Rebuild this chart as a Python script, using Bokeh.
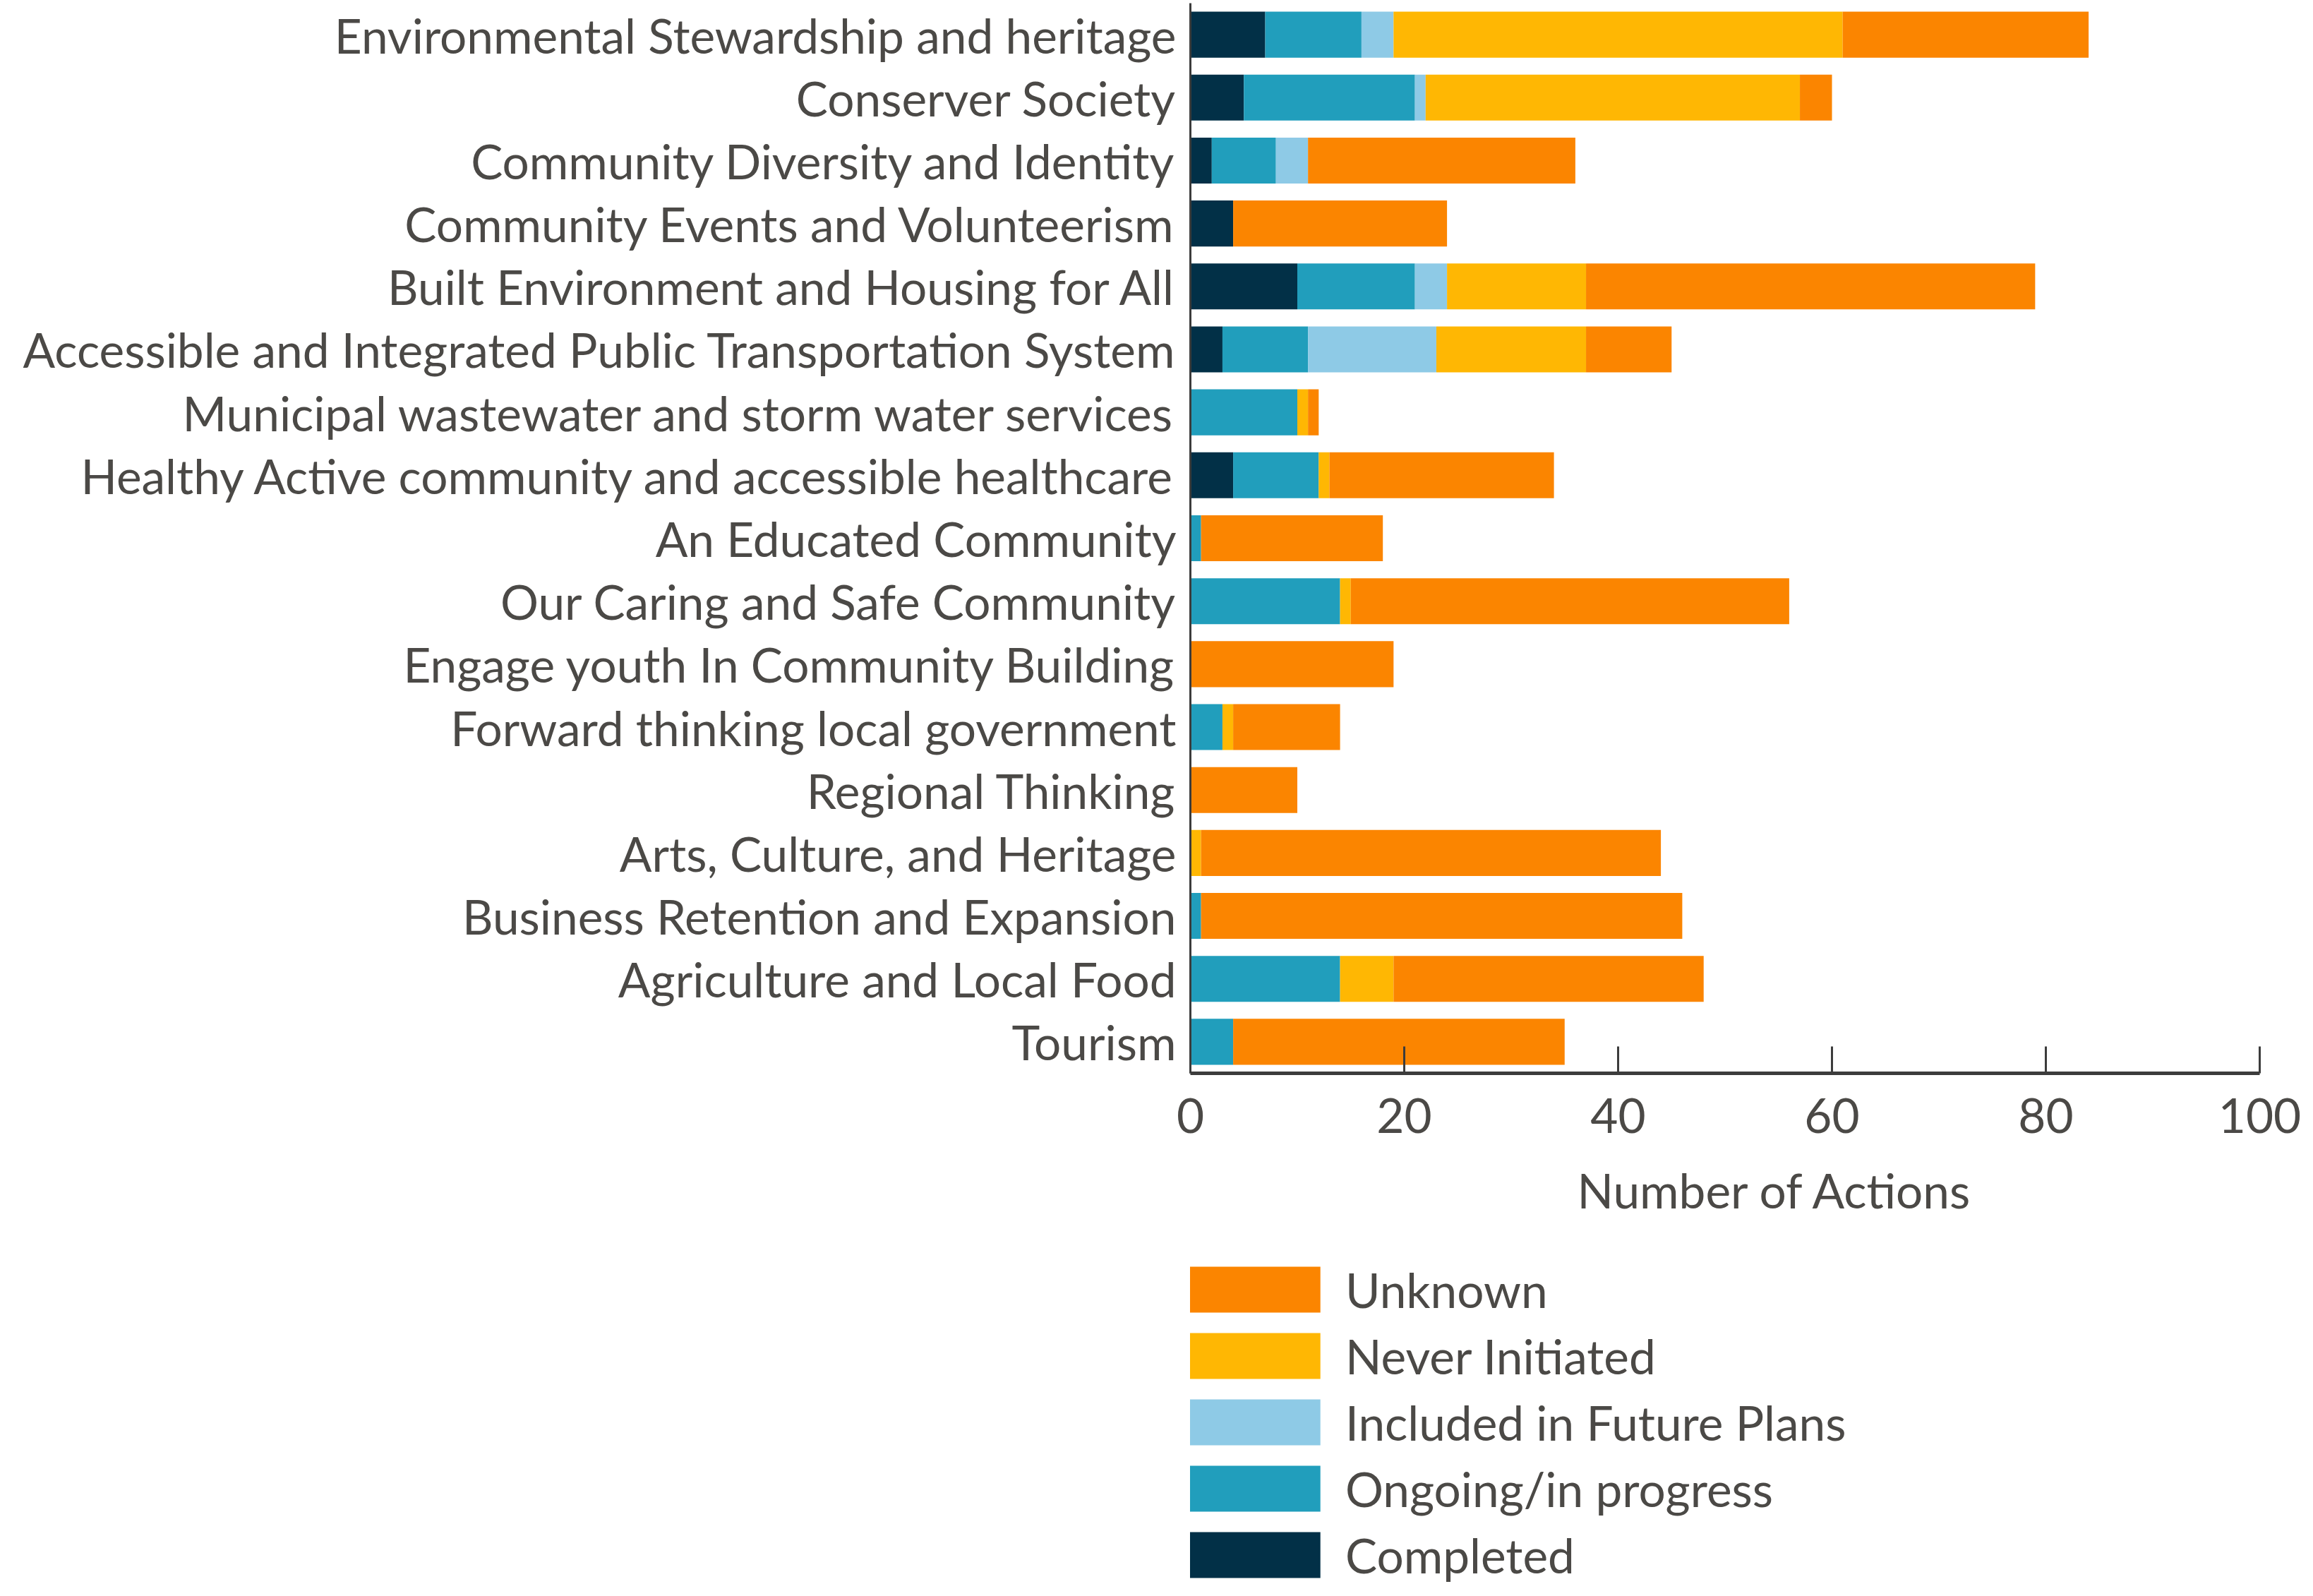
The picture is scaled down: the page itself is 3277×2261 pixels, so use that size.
from bokeh.plotting import figure
from bokeh.layouts import column
from bokeh.models import (ColumnDataSource, FactorRange, Range1d, FixedTicker, Legend,
                          LegendItem, Title)
from bokeh.embed import file_html
from bokeh.resources import INLINE

categories = [
    "Environmental Stewardship and heritage",
    "Conserver Society",
    "Community Diversity and Identity",
    "Community Events and Volunteerism",
    "Built Environment and Housing for All",
    "Accessible and Integrated Public Transportation System",
    "Municipal wastewater and storm water services",
    "Healthy Active community and accessible healthcare",
    "An Educated Community",
    "Our Caring and Safe Community",
    "Engage youth In Community Building",
    "Forward thinking local government",
    "Regional Thinking",
    "Arts, Culture, and Heritage",
    "Business Retention and Expansion",
    "Agriculture and Local Food",
    "Tourism",
]
completed = [7, 5, 2, 4, 10, 3, 0, 4, 0, 0, 0, 0, 0, 0, 0, 0, 0]
ongoing = [9, 16, 6, 0, 11, 8, 10, 8, 1, 14, 0, 3, 0, 0, 1, 14, 4]
future_plans = [3, 1, 3, 0, 3, 12, 0, 0, 0, 0, 0, 0, 0, 0, 0, 0, 0]
never_initiated = [42, 35, 0, 0, 13, 14, 1, 1, 0, 1, 0, 1, 0, 1, 0, 5, 0]
unknown = [23, 3, 25, 20, 42, 8, 1, 21, 17, 41, 19, 10, 10, 43, 45, 29, 31]

series_keys = ["completed", "ongoing", "future", "never", "unknown"]
series_labels = ["Completed", "Ongoing/in progress", "Included in Future Plans",
                 "Never Initiated", "Unknown"]
colors = ["#023047", "#219ebc", "#8ecae6", "#ffb703", "#fb8500"]
x_ticks = [0, 20, 40, 60, 80, 100]
x_title = "Number of Actions"

source = ColumnDataSource(dict(
    cat=categories, completed=completed, ongoing=ongoing, future=future_plans,
    never=never_initiated, unknown=unknown))

FONT = "Lato"
FS = "67.5px"
TEXT = "#4b4946"
AXIS = "#3c3c3c"
W = 3261
H1 = 1780
H2 = 465

p = figure(width=W, height=H1, output_backend="svg", toolbar_location=None,
           y_range=FactorRange(factors=list(reversed(categories)), range_padding=0),
           x_range=Range1d(0, 100),
           min_border_left=1686, min_border_right=60, min_border_top=4,
           min_border_bottom=H1 - 1520)
p.outline_line_color = None
p.grid.grid_line_color = None
p.background_fill_color = "white"
p.border_fill_color = "white"

renderers = p.hbar_stack(series_keys, y="cat", height=0.73, color=colors,
                         line_color=None, source=source)

# x axis
xa = p.xaxis[0]
xa.ticker = FixedTicker(ticks=x_ticks)
xa.minor_tick_line_color = None
xa.major_tick_in = 38
xa.major_tick_out = 0
xa.major_tick_line_width = 3
xa.major_tick_line_color = AXIS
xa.axis_line_width = 5
xa.axis_line_color = AXIS
xa.major_label_text_font = FONT
xa.major_label_text_font_size = FS
xa.major_label_text_color = TEXT
xa.major_label_standoff = 35

# y axis
ya = p.yaxis[0]
ya.major_tick_in = 0
ya.major_tick_out = 0
ya.minor_tick_line_color = None
ya.axis_line_width = 3
ya.axis_line_color = AXIS
ya.major_label_text_font = FONT
ya.major_label_text_font_size = FS
ya.major_label_text_color = TEXT
ya.major_label_standoff = 20

p.add_layout(Title(text=x_title, align="left", offset=548, text_font=FONT,
                   text_font_size=FS, text_font_style="normal", text_color=TEXT,
                   standoff=71), "below")

# legend figure (its frame is aligned with the chart's frame by the column layout);
# the same stacked bars are attached there, on a factor range that shows none of
# them, so that only their legend swatches appear
q = figure(width=W, height=H2, output_backend="svg", toolbar_location=None,
           x_range=Range1d(0, 100),
           y_range=FactorRange(factors=["legend"], range_padding=0),
           x_axis_location=None, y_axis_location=None,
           min_border=0, min_border_left=0, min_border_right=0,
           min_border_top=0, min_border_bottom=0)
q.outline_line_color = None
q.grid.grid_line_color = None
q.border_fill_color = "white"
q.background_fill_color = "white"

swatches = q.hbar_stack(series_keys, y="cat", height=0.73, color=colors,
                        line_color=None, source=source)
items = [LegendItem(label=lab, renderers=[r])
         for lab, r in zip(reversed(series_labels), reversed(swatches))]
legend = Legend(items=items, location=(-30, 2), orientation="vertical",
                glyph_width=238, glyph_height=81, label_standoff=12, spacing=13,
                padding=0, margin=0, border_line_color=None, background_fill_alpha=0,
                label_text_font=FONT, label_text_font_size=FS,
                label_text_color=TEXT)
q.add_layout(legend, "center")

open("out.html", "w").write(file_html(column(p, q, spacing=0), INLINE))
